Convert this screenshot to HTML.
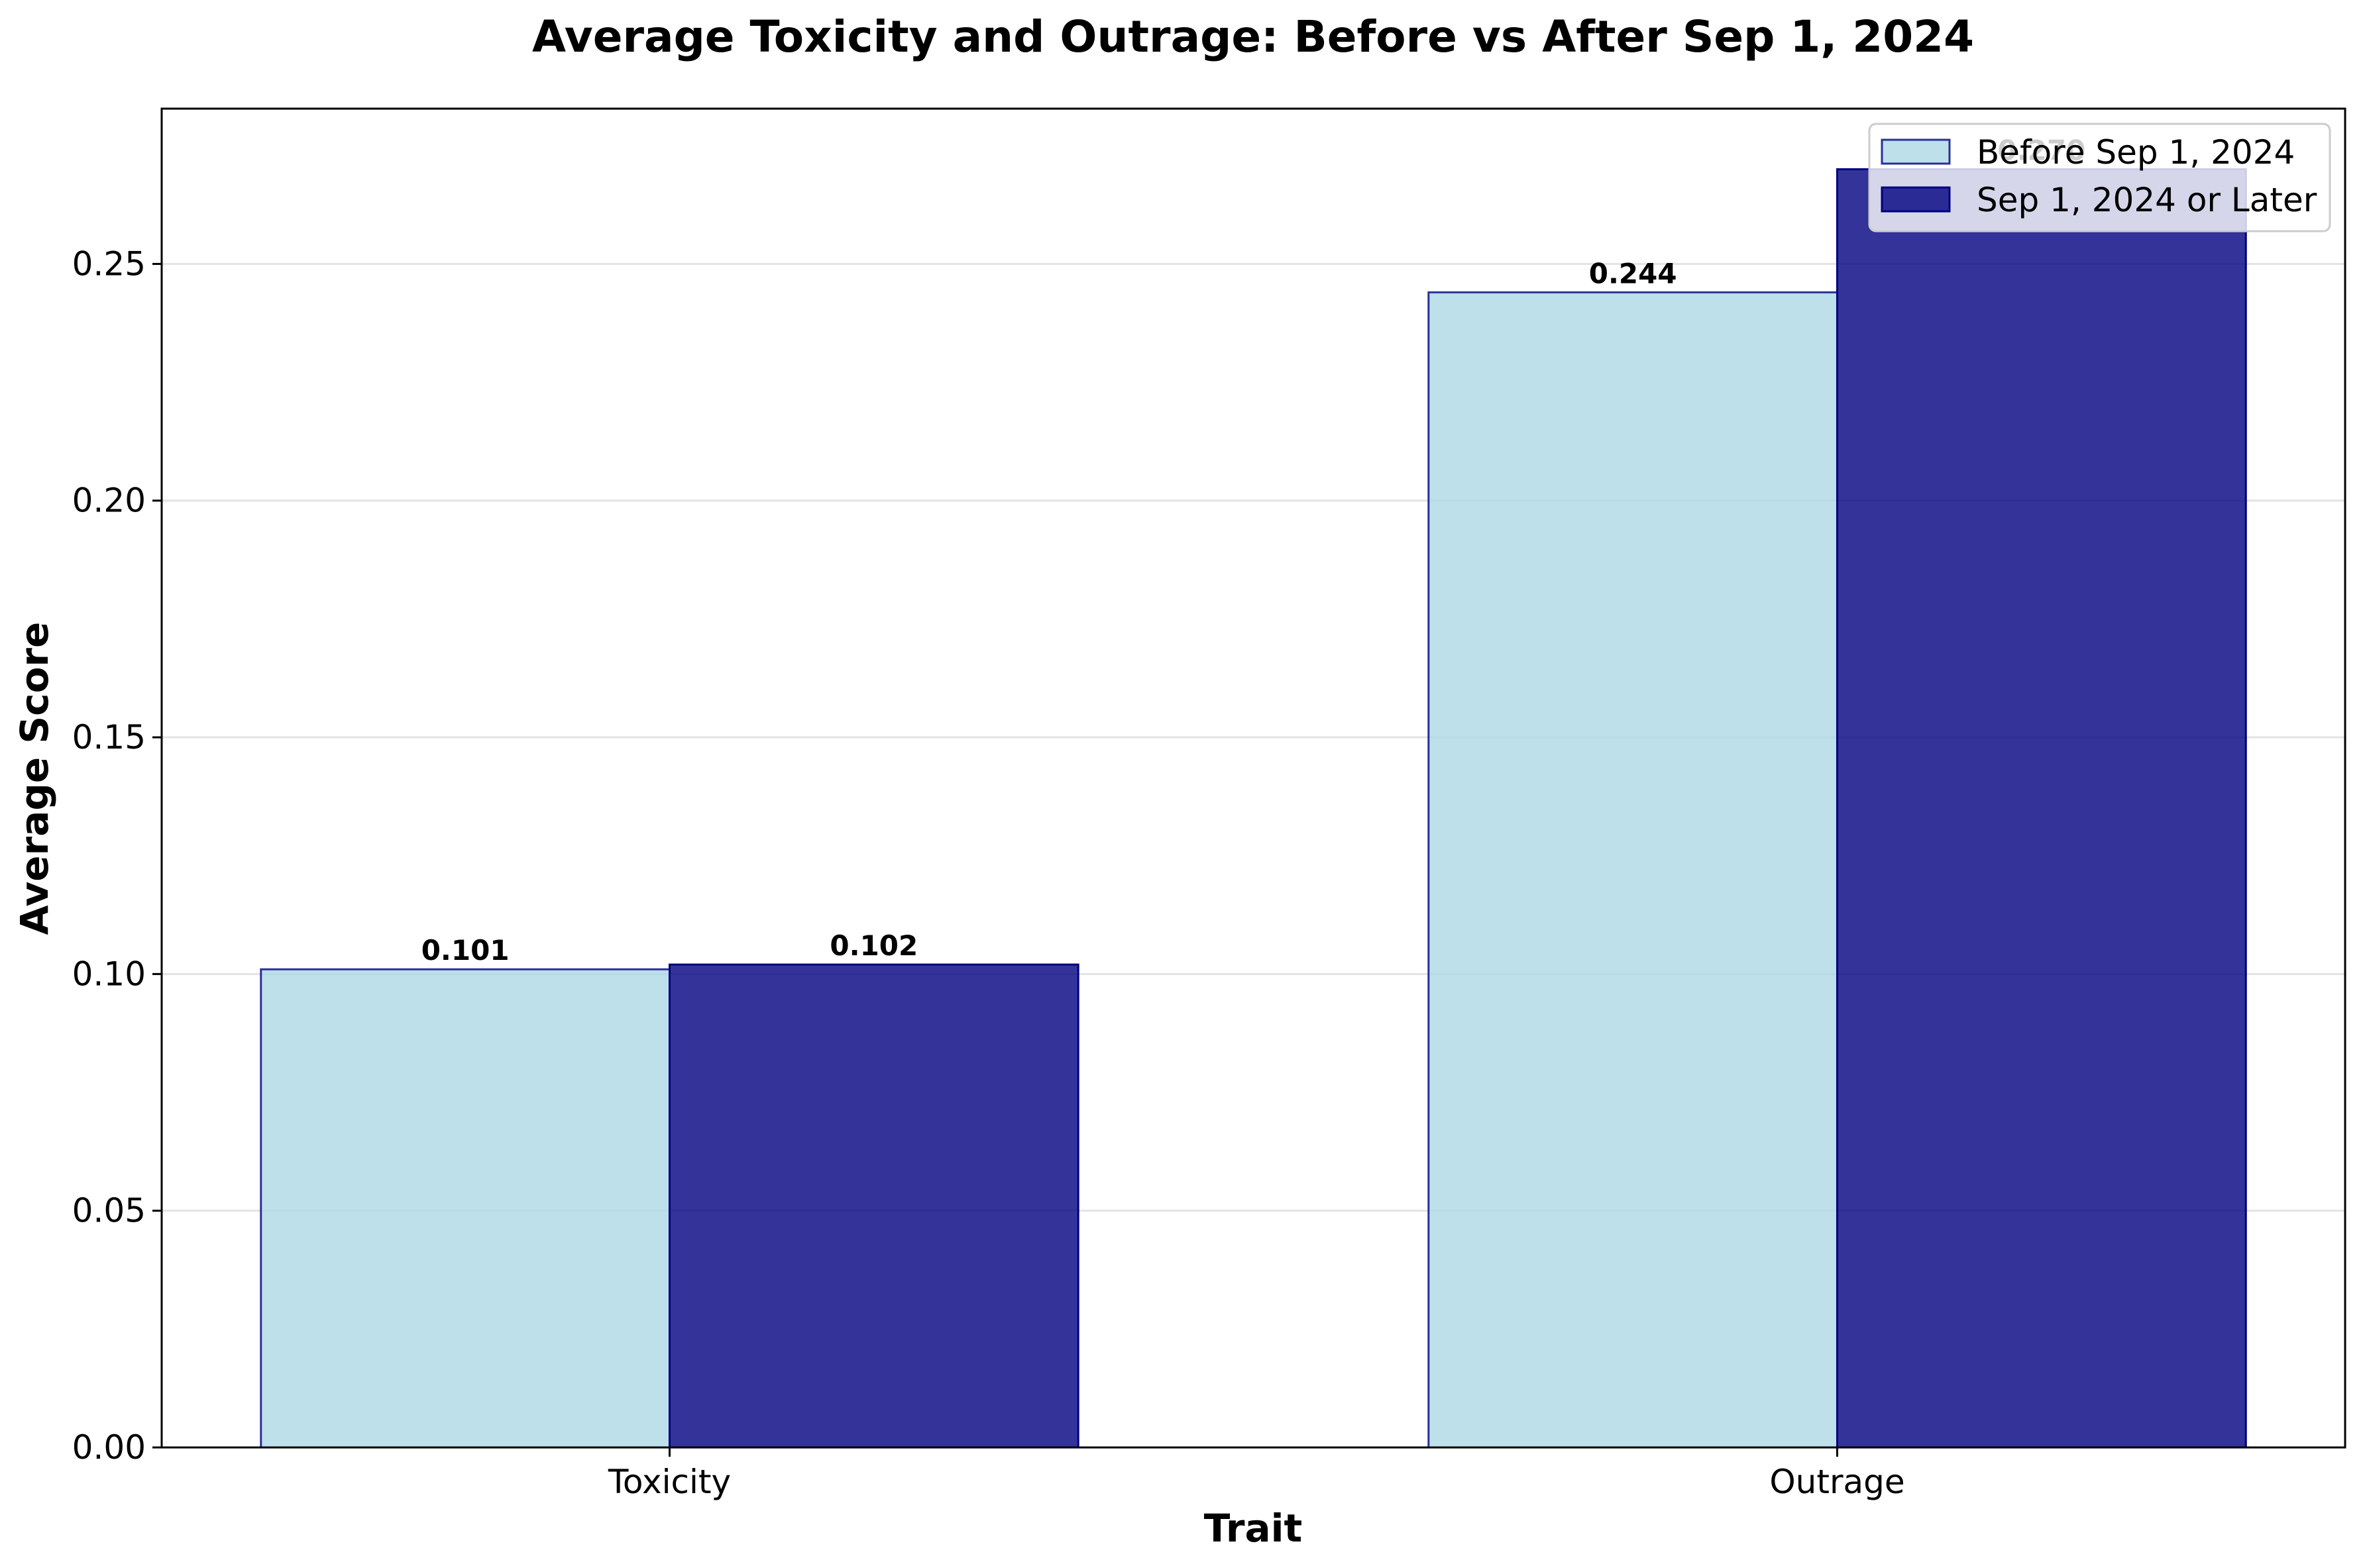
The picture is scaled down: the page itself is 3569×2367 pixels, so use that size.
<!DOCTYPE html>
<html><head><meta charset="utf-8"><style>
html,body{margin:0;padding:0;background:#fff}
svg{display:block;font-family:"DejaVu Sans","Liberation Sans",sans-serif}
</style></head><body>
<svg id="chart" width="3569" height="2367" viewBox="0 0 3569 2367" xmlns="http://www.w3.org/2000/svg">
<rect width="3569" height="2367" fill="#fff"/>
<text x="1891" y="78" font-size="66" font-weight="bold" text-anchor="middle">Average Toxicity and Outrage: Before vs After Sep 1, 2024</text>
<g id="grid"></g>
<g id="bars"></g>
<g id="axes"></g>
<g id="labels"></g>
<text x="1891" y="2327" font-size="58" font-weight="bold" text-anchor="middle">Trait</text>
<text transform="translate(72,1175) rotate(-90)" font-size="58" font-weight="bold" text-anchor="middle">Average Score</text>
<g>
<rect x="2821" y="187" width="695" height="162" rx="10" fill="#fff" fill-opacity="0.8" stroke="#cccccc" stroke-width="3"/>
<rect x="2840" y="211" width="102" height="36" fill="#add8e6" fill-opacity="0.8" stroke="#000080" stroke-opacity="0.8" stroke-width="3"/>
<text x="2983" y="247" font-size="50">Before Sep 1, 2024</text>
<rect x="2840" y="283" width="102" height="36" fill="#000080" fill-opacity="0.8" stroke="#000080" stroke-width="3"/>
<text x="2983" y="319" font-size="50">Sep 1, 2024 or Later</text>
</g>
</svg>
<script>
const categories = ["Toxicity", "Outrage"];
const beforeValues = [0.101, 0.244];
const afterValues = [0.102, 0.270];
const yTicks = [0, 0.05, 0.10, 0.15, 0.20, 0.25];
const yTickLabels = ["0.00", "0.05", "0.10", "0.15", "0.20", "0.25"];

const NS = "http://www.w3.org/2000/svg";
const L = 244, R = 3539, T = 164, B = 2185;
const xMin = -0.435, xMax = 1.435, yMax = 0.2828;
const xs = v => L + (v - xMin) / (xMax - xMin) * (R - L);
const ys = v => B - v / yMax * (B - T);
const bw = 0.35;
function mk(tag, attrs, parent, txt) {
  const e = document.createElementNS(NS, tag);
  for (const k in attrs) e.setAttribute(k, attrs[k]);
  if (txt !== undefined) e.textContent = txt;
  document.getElementById(parent).appendChild(e);
  return e;
}
yTicks.forEach((t, i) => {
  const g = mk("line", {x1: L, x2: R, y1: ys(t), y2: ys(t), stroke: "#b0b0b0", "stroke-opacity": 0.35, "stroke-width": 3}, "grid");
  
  
  const tk = mk("line", {x1: L - 14, x2: L, y1: ys(t), y2: ys(t), stroke: "#000", "stroke-width": 3}, "axes");
  
  
  const lb = mk("text", {x: L - 24, y: ys(t) + 17, "font-size": 50, "text-anchor": "end"}, "axes", yTickLabels[i]);
  
  
});
categories.forEach((c, i) => {
  [[beforeValues[i], -bw, "#add8e6", "before"], [afterValues[i], 0, "#000080", "after"]].forEach(([v, off, col, nm]) => {
    const x0 = xs(i + off), x1 = xs(i + off + bw);
    const r = mk("rect", {x: x0, y: ys(v), width: x1 - x0, height: B - ys(v), fill: col, "fill-opacity": 0.8, stroke: "#000080", "stroke-opacity": nm === "before" ? 0.8 : 1, "stroke-width": 3}, "bars");
    
    
    const t = mk("text", {x: (x0 + x1) / 2, y: ys(v) - 14, "font-size": 42, "font-weight": "bold", "text-anchor": "middle"}, "labels", v.toFixed(3));
    
    
  });
  const tk = mk("line", {x1: xs(i), x2: xs(i), y1: B, y2: B + 14, stroke: "#000", "stroke-width": 3}, "axes");
  
  
  const lb = mk("text", {x: xs(i), y: 2254, "font-size": 50, "text-anchor": "middle"}, "axes", c);
  
  
});
const fr = mk("rect", {x: L, y: T, width: R - L, height: B - T, fill: "none", stroke: "#000", "stroke-width": 3}, "axes");


</script>
</body></html>
